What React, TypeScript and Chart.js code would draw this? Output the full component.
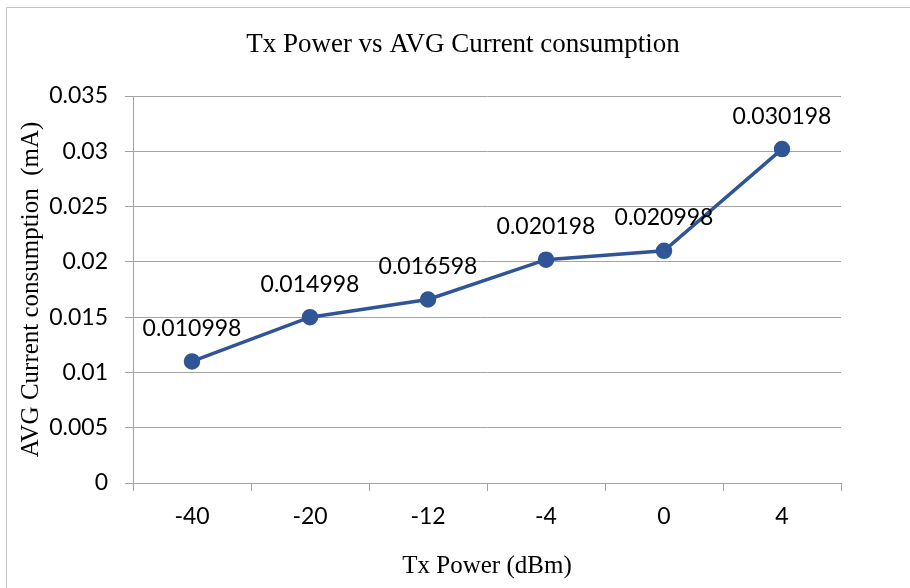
import React, { useEffect, useRef } from "react";
import { Chart, registerables } from "chart.js";

Chart.register(...registerables);

const categories = ["-40", "-20", "-12", "-4", "0", "4"];
const currentValues = [0.010998, 0.014998, 0.016598, 0.020198, 0.020998, 0.030198];
const valueLabels = ["0.010998", "0.014998", "0.016598", "0.020198", "0.020998", "0.030198"];
const chartTitle = "Tx Power vs AVG Current consumption";
const xTitle = "Tx Power (dBm)";
const yTitle = "AVG Current consumption  (mA)";
const yMin = 0;
const yMax = 0.035;
const yStep = 0.005;

const SANS = "Lato, 'Open Sans', sans-serif";
const SERIF = "'Liberation Serif', 'Times New Roman', serif";
const GRID = "#a3a3a3";

const framePlugin = {
  id: "frameAndTitle",
  beforeDraw(chart: any) {
    const ctx = chart.ctx;
    ctx.save();
    ctx.fillStyle = "#ffffff";
    ctx.fillRect(0, 0, chart.width, chart.height);
    ctx.strokeStyle = "#c4c4c4";
    ctx.lineWidth = 1;
    ctx.beginPath();
    ctx.moveTo(6.5, chart.height);
    ctx.lineTo(6.5, 7.5);
    ctx.lineTo(chart.width, 7.5);
    ctx.stroke();
    ctx.fillStyle = "#000000";
    ctx.font = `27px ${SERIF}`;
    ctx.textAlign = "center";
    ctx.textBaseline = "middle";
    ctx.fillText(chartTitle, 463, 45);
    ctx.restore();
  },
};

const dataLabelPlugin = {
  id: "dataLabels",
  afterDatasetsDraw(chart: any) {
    const ctx = chart.ctx;
    const meta = chart.getDatasetMeta(0);
    ctx.save();
    ctx.fillStyle = "#000000";
    ctx.font = `23px ${SANS}`;
    ctx.textAlign = "center";
    ctx.textBaseline = "middle";
    meta.data.forEach((pt: any, i: number) => {
      ctx.fillText(valueLabels[i], pt.x, pt.y - 33);
    });
    ctx.restore();
  },
};

export default function App() {
  const ref = useRef<HTMLCanvasElement>(null);

  useEffect(() => {
    if (!ref.current) return;
    const chart = new Chart(ref.current, {
      type: "line",
      data: {
        labels: categories,
        datasets: [
          {
            data: currentValues,
            borderColor: "#2F5597",
            backgroundColor: "#2F5597",
            borderWidth: 3.5,
            pointRadius: 6.5,
            pointHoverRadius: 6.5,
            pointBackgroundColor: "#2F5597",
            pointBorderColor: "#2F5597",
            tension: 0,
          },
        ],
      },
      options: {
        responsive: false,
        animation: false,
        devicePixelRatio: 1,
        layout: { padding: { top: 96, left: 0, right: 69, bottom: 0 } },
        plugins: {
          legend: { display: false },
          title: { display: false },
          tooltip: { enabled: false },
        },
        scales: {
          x: {
            type: "category",
            offset: true,
            afterFit(scale: any) {
              scale.height = 105;
            },
            grid: {
              offset: true,
              drawOnChartArea: false,
              drawTicks: true,
              tickLength: 8,
              color: GRID,
            },
            border: { display: true, color: GRID, width: 1 },
            ticks: {
              color: "#000000",
              font: { family: SANS, size: 23 },
              padding: 12,
              maxRotation: 0,
            },
            title: {
              display: true,
              text: xTitle,
              color: "#000000",
              font: { family: SERIF, size: 25 },
              padding: { top: 0, bottom: 7 },
            },
          },
          y: {
            min: yMin,
            max: yMax,
            afterFit(scale: any) {
              scale.width = 133;
            },
            ticks: {
              stepSize: yStep,
              color: "#000000",
              font: { family: SANS, size: 23 },
              padding: 17,
              callback: (v: any) => String(Number(Number(v).toFixed(3))),
            },
            grid: {
              color: GRID,
              tickLength: 8,
              drawTicks: true,
            },
            border: { display: true, color: GRID, width: 1 },
            title: {
              display: true,
              text: yTitle,
              color: "#000000",
              font: { family: SERIF, size: 25 },
              padding: { top: 16, bottom: 0 },
            },
          },
        },
      },
      plugins: [framePlugin, dataLabelPlugin],
    });
    return () => chart.destroy();
  }, []);

  return (
    <div style={{ position: "absolute", left: 0, top: 0, width: 910, height: 588 }}>
      <canvas ref={ref} width={910} height={588} style={{ width: 910, height: 588, display: "block" }} />
    </div>
  );
}
